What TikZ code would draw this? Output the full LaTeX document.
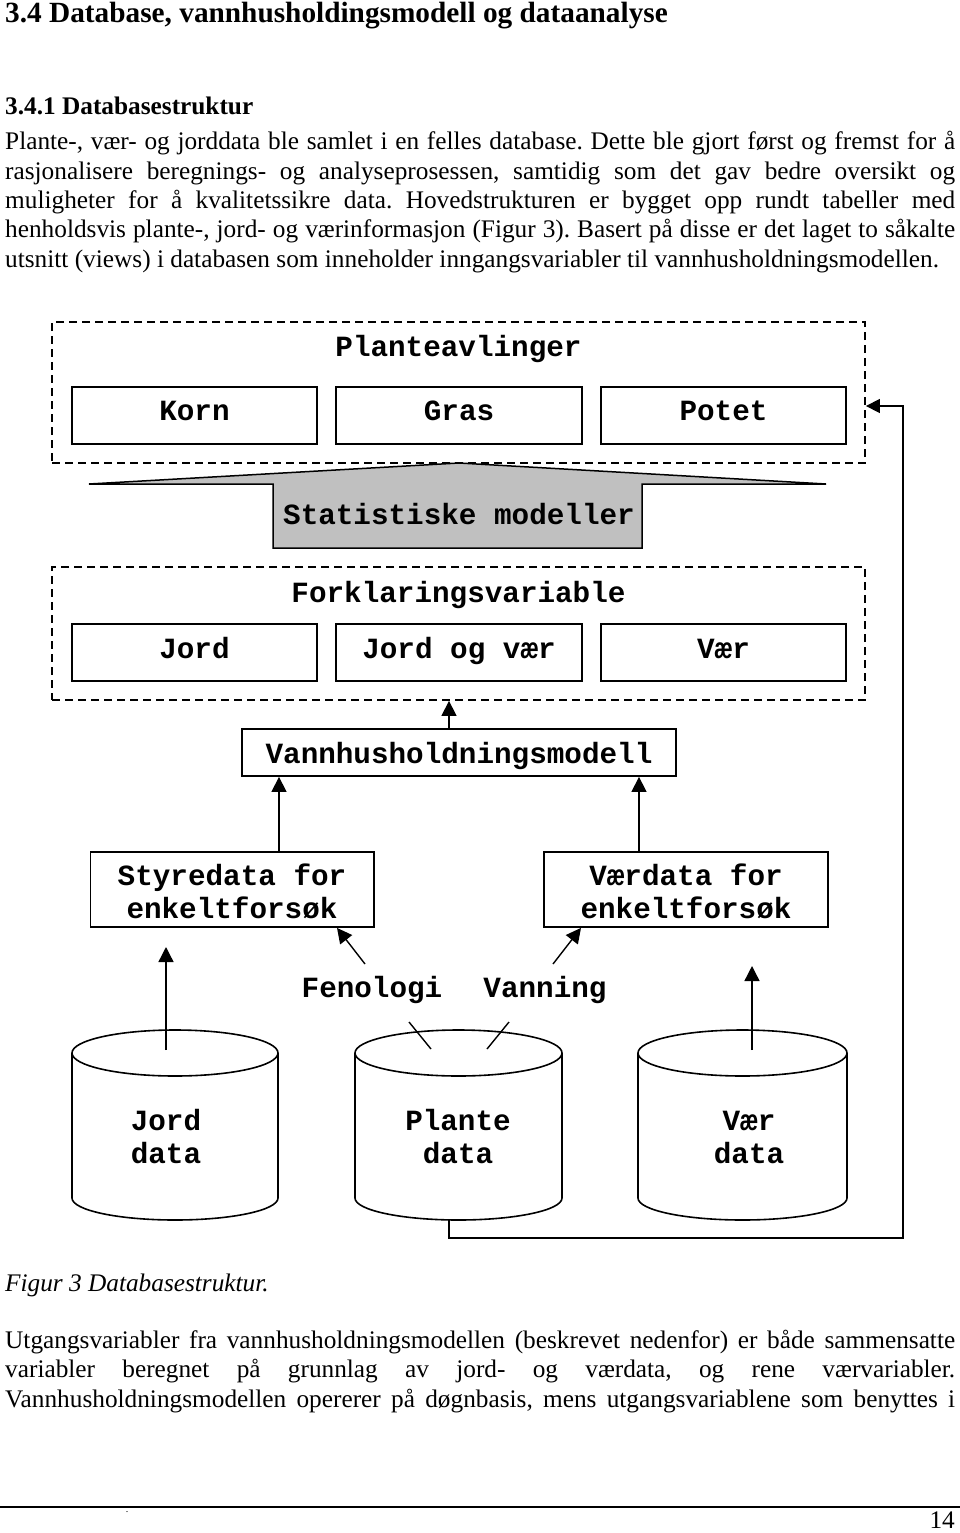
\documentclass[tikz,border=0pt]{standalone}
\usepackage{fontspec}
\setmainfont{Liberation Serif}
\newfontfamily\diagfont{Liberation Mono}
\usetikzlibrary{arrows.meta}
\definecolor{statgray}{RGB}{192,192,192}
\frenchspacing
\begin{document}
\begin{tikzpicture}[x=1pt,y=-1pt,
  bodytxt/.style={anchor=base west, inner sep=0pt, font=\frenchspacing\fontsize{25.3}{29}\selectfont},
  headtxt/.style={anchor=base west, inner sep=0pt, font=\bfseries\fontsize{29.3}{32}\selectfont},
  subtxt/.style={anchor=base west, inner sep=0pt, font=\bfseries\fontsize{25.3}{29}\selectfont},
  dtxt/.style={anchor=base, inner sep=0pt, font=\diagfont\bfseries\fontsize{29.3}{33}\selectfont},
  boxnode/.style={draw, line width=1.8pt, inner sep=0pt},
  groupbox/.style={draw, line width=1.8pt, dash pattern=on 8pt off 5pt, inner sep=0pt},
  conn/.style={line width=1.4pt, -{Triangle[width=15pt,length=15pt]}},
  plainline/.style={line width=1.4pt},
  cyl/.style={line width=1.6pt}
]
\useasboundingbox (0,0) rectangle (960,1533);

% ---------- page text ----------
\node[headtxt] (h1) at (5,23) {3.4 Database, vannhusholdingsmodell og dataanalyse};
\node[subtxt] (h2) at (5,115) {3.4.1 Databasestruktur};
\node[bodytxt] (p1) at (5,150) {\makebox[950pt][s]{Plante-, vær- og jorddata ble samlet i en felles database. Dette ble gjort først og fremst for å}};
\node[bodytxt] (p2) at (5,179.3) {\makebox[950pt][s]{rasjonalisere beregnings- og analyseprosessen, samtidig som det gav bedre oversikt og}};
\node[bodytxt] (p3) at (5,208.6) {\makebox[950pt][s]{muligheter for å kvalitetssikre data. Hovedstrukturen er bygget opp rundt tabeller med}};
\node[bodytxt] (p4) at (5,237.9) {\makebox[950pt][s]{henholdsvis plante-, jord- og værinformasjon (Figur 3). Basert på disse er det laget to såkalte}};
\node[bodytxt] (p5) at (5,267.2) {utsnitt (views) i databasen som inneholder inngangsvariabler til vannhusholdningsmodellen.};

\node[bodytxt] (cap) at (5,1291) {\itshape Figur 3 Databasestruktur.};
\node[bodytxt] (q1) at (5,1348) {\makebox[950pt][s]{Utgangsvariabler fra vannhusholdningsmodellen (beskrevet nedenfor) er både sammensatte}};
\node[bodytxt] (q2) at (5,1377.5) {\makebox[950pt][s]{variabler beregnet på grunnlag av jord- og værdata, og rene værvariabler.}};
\node[bodytxt] (q3) at (5,1407) {\makebox[950pt][s]{Vannhusholdningsmodellen opererer på døgnbasis, mens utgangsvariablene som benyttes i}};

\draw[line width=2pt] (0,1507) -- (960,1507);
\node[anchor=base, inner sep=0pt, font=\fontsize{10}{12}\selectfont] (dot) at (127,1512) {.};
\node[anchor=base east, inner sep=0pt, font=\fontsize{25.3}{29}\selectfont] (pgno) at (955,1528) {14};

% ---------- Planteavlinger group ----------
\node[groupbox, minimum width=813pt, minimum height=141pt] (plantgrp) at (458.5,392.5) {};
\node[dtxt] (plantlbl) at (458.5,356) {Planteavlinger};
\node[boxnode, minimum width=245pt, minimum height=57pt] (korn) at (194.5,415.5) {};
\node[boxnode, minimum width=246pt, minimum height=57pt] (gras) at (459,415.5) {};
\node[boxnode, minimum width=245pt, minimum height=57pt] (potet) at (723.5,415.5) {};
\node[dtxt] at (194.5,420) {Korn};
\node[dtxt] at (459,420) {Gras};
\node[dtxt] at (723.5,420) {Potet};

% ---------- Statistiske modeller arrow ----------
\draw[line width=1.5pt, fill=statgray, line join=miter]
  (459,463) -- (826,484) -- (642,484) -- (642,548) -- (273,548) -- (273,484) -- (89,484) -- cycle;
\node[dtxt] (statlbl) at (459,524) {Statistiske modeller};

% ---------- Forklaringsvariable group ----------
\node[groupbox, minimum width=813pt, minimum height=133pt] (forkgrp) at (458.5,633.5) {};
\node[dtxt] (forklbl) at (458.5,602) {Forklaringsvariable};
\node[boxnode, minimum width=245pt, minimum height=57pt] (jordbox) at (194.5,652.5) {};
\node[boxnode, minimum width=246pt, minimum height=57pt] (jordvaer) at (459,652.5) {};
\node[boxnode, minimum width=245pt, minimum height=57pt] (vaerbox) at (723.5,652.5) {};
\node[dtxt] at (194.5,658) {Jord};
\node[dtxt] at (459,658) {Jord og vær};
\node[dtxt] at (723.5,658) {Vær};

% ---------- Vannhusholdningsmodell ----------
\node[boxnode, minimum width=434pt, minimum height=47pt] (vhm) at (459,752.5) {};
\node[dtxt] at (459,763) {Vannhusholdningsmodell};
\draw[conn] (vhm.north -| 449,0) -- (forkgrp.south -| 449,0);

% ---------- Styredata / Værdata ----------
\node[boxnode, minimum width=283.5pt, minimum height=75pt] (styre) at (232.25,889.5) {};
\node[dtxt] at (232,885) {Styredata for};
\node[dtxt] at (232,918) {enkeltforsøk};
\node[boxnode, minimum width=284pt, minimum height=75pt] (vaerdata) at (686,889.5) {};
\node[dtxt] at (686,885) {Værdata for};
\node[dtxt] at (686,918) {enkeltforsøk};

\draw[conn] (styre.north -| 279,0) -- (vhm.south -| 279,0);
\draw[conn] (vaerdata.north -| 639,0) -- (vhm.south -| 639,0);

% ---------- Fenologi / Vanning ----------
\node[dtxt] (fen) at (372,997) {Fenologi};
\node[dtxt] (van) at (545,997) {Vanning};
\coordinate (fenstart) at (365,964);
\coordinate (vanstart) at (553,964);
\draw[conn] (fenstart) -- (styre.south -| 337,0);
\draw[conn] (vanstart) -- (vaerdata.south -| 581,0);

% ---------- cylinders ----------
\foreach \cx/\rx in {175/103, 458.5/103.5, 742.5/104.5}{
  \draw[cyl] (\cx-\rx,1053) -- (\cx-\rx,1198)
     arc[start angle=180, end angle=360, x radius=\rx pt, y radius=22pt]
     -- (\cx+\rx,1053);
  \draw[cyl] (\cx,1053) ellipse [x radius=\rx pt, y radius=23pt];
}
\node[dtxt] (jordcyl1) at (166,1130) {Jord};
\node[dtxt] (jordcyl2) at (166,1163) {data};
\node[dtxt] (plcyl1) at (458,1130) {Plante};
\node[dtxt] (plcyl2) at (458,1163) {data};
\node[dtxt] (vcyl1) at (749,1130) {Vær};
\node[dtxt] (vcyl2) at (749,1163) {data};

\coordinate (jordtop) at (166,1050);
\coordinate (jordtip) at (166,947);
\coordinate (vaertop) at (752,1050);
\coordinate (vaertip) at (752,966);
\draw[conn] (jordtop) -- (jordtip);
\draw[conn] (vaertop) -- (vaertip);

\coordinate (pa1) at (409,1022);
\coordinate (pa2) at (431,1049);
\coordinate (pb1) at (509,1022);
\coordinate (pb2) at (487,1049);
\draw[plainline] (pa1) -- (pa2);
\draw[plainline] (pb1) -- (pb2);

% ---------- feedback loop ----------
\coordinate (plbot) at (449,1220);
\draw[line width=1.4pt, -{Triangle[width=14pt,length=14pt]}]
  (plbot) -- (449,1238) -- (903,1238) -- (903,406) -- (plantgrp.east |- 0,406);
\end{tikzpicture}
\end{document}
